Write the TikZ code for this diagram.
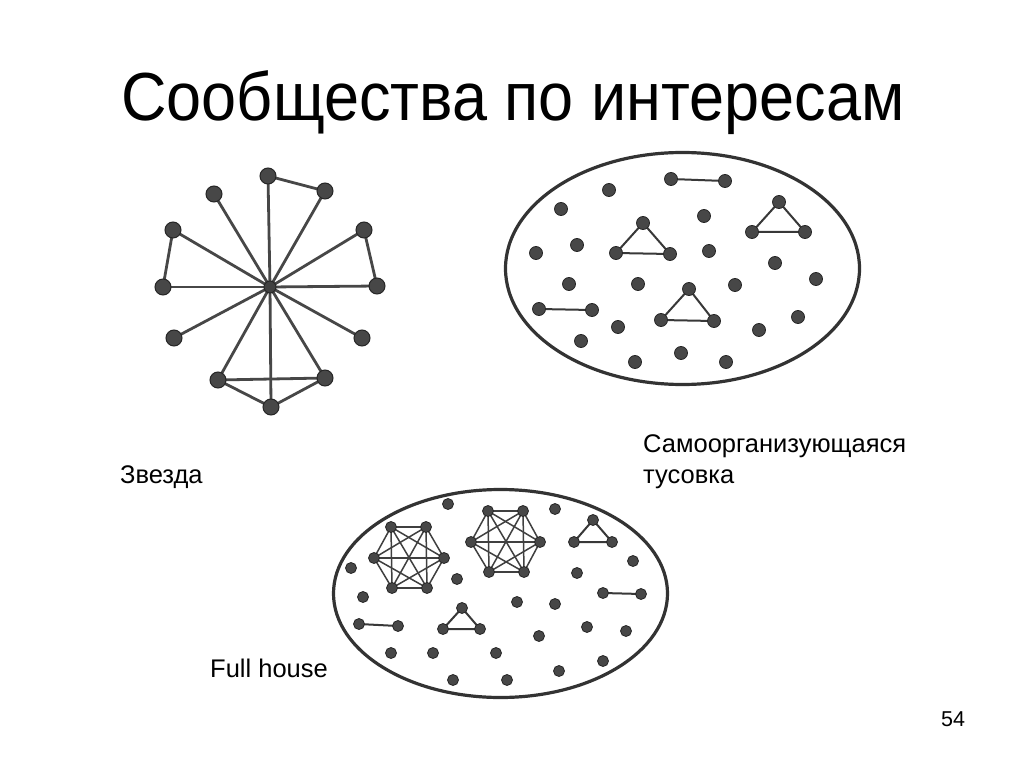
\documentclass[tikz,border=0pt]{standalone}
\usepackage{fontspec}
\setmainfont{Liberation Sans}
\usetikzlibrary{shapes.geometric}
\pgfdeclarelayer{bg}
\pgfsetlayers{bg,main}
\begin{document}
\begin{tikzpicture}[x=1pt,y=-1pt,
  sdot/.style={circle,inner sep=0pt,minimum size=16pt,fill=black!72,draw=black!85,line width=1pt},
  cdot/.style={circle,inner sep=0pt,minimum size=12pt,fill=black!75,draw=black!85,line width=1pt},
  tdot/.style={circle,inner sep=0pt,minimum size=13pt,fill=black!72,draw=black!85,line width=0.8pt},
  bdot/.style={circle,inner sep=0pt,minimum size=11pt,fill=black!72,draw=black!85,line width=0.8pt},
  sedge/.style={draw=black!72,line width=2.8pt},
  tedge/.style={draw=black!78,line width=2pt},
  hedge/.style={draw=black!75,line width=1.5pt},
  oval/.style={draw=black!80,line width=3.2pt},
  lbl/.style={anchor=base west,inner sep=0pt,font=\fontsize{25.5}{30}\selectfont}
]
\begin{pgfonlayer}{bg}
\fill[white] (0,0) rectangle (1024,767);
\end{pgfonlayer}
\useasboundingbox (0,0) rectangle (1024,767);

% Title and labels
\node[anchor=base,inner sep=0pt,font=\fontsize{63}{70}\selectfont] (title) at (513,121) {\scalebox{1}[1.08]{Сообщества по интересам}};
\node[lbl] (zv) at (120,483) {Звезда};
\node[lbl] (sam1) at (643,452) {Самоорганизующаяся};
\node[lbl] (sam2) at (643,483) {тусовка};
\node[lbl] (fh) at (210,677) {Full house};
\node[anchor=base west,inner sep=0pt,font=\fontsize{21.5}{25}\selectfont] (pg) at (941,726) {54};

% ---------- Star ----------
\foreach \n/\x/\y in {s1/268/176,s2/325/191,s3/214/194,s4/173/230,s5/364/230,s6/163/287,s7/377/286,s8/174/338,s9/362/338,s10/218/380,s11/325/378,s12/271/407}
  \node[sdot] (\n) at (\x,\y) {};
\node[cdot] (sc) at (270,287) {};
\begin{pgfonlayer}{bg}
\foreach \n in {s1,s2,s3,s4,s5,s6,s7,s8,s9,s10,s11,s12}
  \draw[sedge] (sc.center) -- (\n.center);
\draw[sedge] (s1.center) -- (s2.center);
\draw[sedge] (s4.center) -- (s6.center);
\draw[sedge] (s5.center) -- (s7.center);
\draw[sedge] (s10.center) -- (s11.center) -- (s12.center) -- cycle;
\end{pgfonlayer}

% ---------- Top ellipse ----------
\node[oval,ellipse,minimum width=354pt,minimum height=232pt,inner sep=0pt] (topoval) at (682.5,268.5) {};
\foreach \n/\x/\y in {p1/671/179,p2/725/181,t1/609/190,t2/561/209,t3/704/216,
  a1/643/223,a2/616/253,a3/670/254,b1/779/202,b2/752/232,b3/805/232,
  t4/577/245,t5/536/253,t6/709/251,t7/775/263,t8/816/279,t9/569/284,t10/638/284,t11/735/285,
  c1/689/289,c2/661/320,c3/714/321,q1/539/309,q2/592/310,
  t12/618/327,t13/798/317,t14/759/330,t15/581/341,t16/681/353,t17/635/362,t18/726/362}
  \node[tdot] (\n) at (\x,\y) {};
\begin{pgfonlayer}{bg}
\draw[tedge] (p1.center) -- (p2.center);
\draw[tedge] (q1.center) -- (q2.center);
\draw[tedge] (a1.center) -- (a2.center) -- (a3.center) -- cycle;
\draw[tedge] (b1.center) -- (b2.center) -- (b3.center) -- cycle;
\draw[tedge] (c1.center) -- (c2.center) -- (c3.center) -- cycle;
\end{pgfonlayer}

% ---------- Bottom ellipse ----------
\node[oval,ellipse,minimum width=334pt,minimum height=208pt,inner sep=0pt] (botoval) at (500.5,593.5) {};
\foreach \n/\x/\y in {h1/391/527,h2/426/527,h3/374/558,h4/444/558,h5/392/588,h6/427/588,
  k1/488/511,k2/523/511,k3/471/542,k4/540/542,k5/489/572,k6/524/572,
  u1/448/504,u2/555/509,d1/593/520,d2/574/542,d3/612/542,u3/633/561,u4/351/568,u5/457/579,u6/577/573,
  r1/603/593,r2/641/594,u7/363/597,u8/517/602,u9/555/604,e1/462/608,e2/443/629,e3/480/629,
  l1/359/624,l2/398/626,u10/587/627,u11/626/631,u12/539/636,u13/391/653,u14/433/653,u15/496/653,
  u16/603/661,u17/559/671,u18/453/680,u19/507/680}
  \node[bdot] (\n) at (\x,\y) {};
\begin{pgfonlayer}{bg}
\foreach \i/\j in {1/2,1/3,1/4,1/5,1/6,2/3,2/4,2/5,2/6,3/4,3/5,3/6,4/5,4/6,5/6} {
  \draw[hedge] (h\i.center) -- (h\j.center);
  \draw[hedge] (k\i.center) -- (k\j.center);
}
\draw[tedge] (d1.center) -- (d2.center) -- (d3.center) -- cycle;
\draw[tedge] (e1.center) -- (e2.center) -- (e3.center) -- cycle;
\draw[tedge] (r1.center) -- (r2.center);
\draw[tedge] (l1.center) -- (l2.center);
\end{pgfonlayer}
\end{tikzpicture}
\end{document}
